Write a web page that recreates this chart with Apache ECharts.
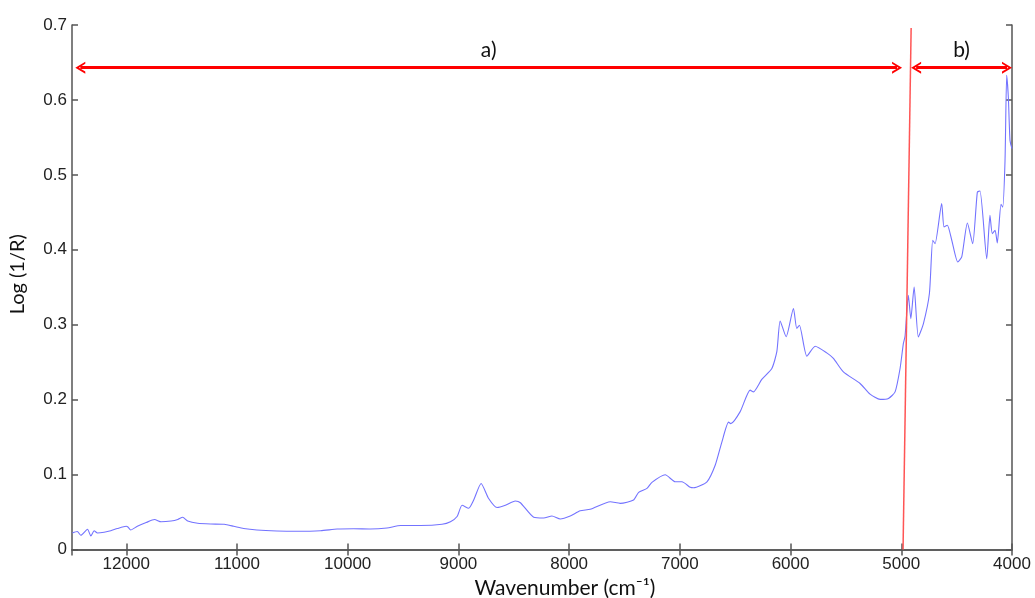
<!DOCTYPE html>
<html>
<head>
<meta charset="utf-8">
<script src="https://cdn.jsdelivr.net/npm/echarts@6/dist/echarts.min.js"></script>
<style>
  html, body { margin: 0; padding: 0; background: #fff; }
  #chart { width: 1035px; height: 598px; }
</style>
</head>
<body>
<div id="chart"></div>
<script>
// spectrum
const wavenumbers = [12487, 12442, 12410, 12350, 12320, 12290, 12260, 12200, 12140, 12080, 12000, 11985, 11960, 11900, 11820, 11745, 11685, 11595, 11535, 11490, 11445, 11355, 11235, 11115, 11030, 10940, 10820, 10640, 10460, 10245, 10095, 9945, 9795, 9645, 9520, 9343, 9148, 9072, 9012, 8967, 8907, 8862, 8795, 8727, 8651, 8576, 8486, 8440, 8320, 8230, 8155, 8080, 7990, 7900, 7810, 7628, 7538, 7418, 7372, 7297, 7252, 7132, 7041, 6981, 6906, 6876, 6755, 6680, 6620, 6560, 6540, 6455, 6365, 6335, 6260, 6169, 6124, 6094, 6040, 5974, 5944, 5920, 5853, 5778, 5673, 5613, 5523, 5372, 5282, 5191, 5116, 5056, 5011, 4981, 4966, 4936, 4914, 4884, 4846, 4800, 4746, 4716, 4695, 4635, 4614, 4584, 4544, 4490, 4454, 4403, 4355, 4313, 4289, 4228, 4199, 4178, 4153, 4133, 4099, 4084, 4063, 4048, 4033, 4018, 4000];
const logR = [0.022, 0.024, 0.019, 0.027, 0.018, 0.025, 0.022, 0.023, 0.025, 0.028, 0.031, 0.030, 0.026, 0.031, 0.036, 0.040, 0.037, 0.038, 0.040, 0.043, 0.038, 0.035, 0.034, 0.0336, 0.031, 0.028, 0.026, 0.0247, 0.0243, 0.025, 0.0273, 0.0277, 0.0273, 0.0287, 0.032, 0.032, 0.0336, 0.037, 0.044, 0.059, 0.055, 0.066, 0.088, 0.068, 0.056, 0.059, 0.0647, 0.0624, 0.043, 0.042, 0.0447, 0.0407, 0.0447, 0.0517, 0.0536, 0.0637, 0.0616, 0.066, 0.0763, 0.0816, 0.0896, 0.0997, 0.0904, 0.0904, 0.083, 0.0824, 0.0904, 0.1127, 0.1437, 0.170, 0.168, 0.184, 0.2127, 0.2104, 0.227, 0.2416, 0.264, 0.305, 0.284, 0.3216, 0.295, 0.2993, 0.258, 0.2713, 0.2624, 0.255, 0.237, 0.2216, 0.2073, 0.2003, 0.2016, 0.2104, 0.2416, 0.275, 0.2847, 0.3393, 0.308, 0.3504, 0.2837, 0.3016, 0.3416, 0.4127, 0.408, 0.4616, 0.4304, 0.4327, 0.4127, 0.3837, 0.3904, 0.4357, 0.408, 0.477, 0.4784, 0.388, 0.446, 0.4216, 0.426, 0.409, 0.4607, 0.457, 0.5193, 0.633, 0.6037, 0.546, 0.535];

// region markers: [start wn, end wn, y]
const regionA = [12415, 5038, 0.643];
const regionB = [4866, 4045, 0.643];
const regionLabels = ["a)", "b)"];
const splitLine = [[4911, 0.696], [4984, 0]];

const xTicks = ["4000", "5000", "6000", "7000", "8000", "9000", "10000", "11000", "12000"];

const chevron = "path://M0,10 L5,0 L10,10 L8.2,10 L5,3.6 L1.8,10 Z";

var chartDom = document.getElementById("chart");
var myChart = echarts.init(chartDom);

const axisLineStyle = { color: "#555", width: 1.5 };
const tickFont = { fontFamily: "Liberation Sans", fontSize: 17, color: "#222" };

function arrowLine(r, label) {
  return [
    { coord: [r[0], r[2]], symbol: chevron, symbolSize: [12, 10] },
    { coord: [r[1], r[2]], symbol: chevron, symbolSize: [12, 10], name: label },
  ];
}

var option = {
  animation: false,
  grid: { left: 72, right: 23, top: 25, bottom: 48.5, containLabel: false, outerBoundsMode: "none" },
  xAxis: [
    {
      type: "value",
      min: 4000,
      max: 12490,
      interval: 1000,
      inverse: true,
      axisLine: { lineStyle: axisLineStyle },
      axisTick: { inside: true, length: 6, lineStyle: axisLineStyle },
      splitLine: { show: false },
      axisLabel: Object.assign({
        margin: 6,
        showMaxLabel: false,
        formatter: function (v) {
          return xTicks.indexOf(String(v)) >= 0 ? String(v) : "";
        },
      }, tickFont),
      name: "Wavenumber (cm\u207B\u00B9)",
      nameLocation: "middle",
      nameGap: 27,
      nameTextStyle: { fontFamily: "Lato", fontSize: 21, color: "#111", padding: [0, 0, 0, 46] },
    },
    {
      type: "value",
      position: "top",
      min: 4000,
      max: 12490,
      interval: 1000,
      inverse: true,
      axisLine: { lineStyle: axisLineStyle },
      axisTick: { inside: true, length: 6, lineStyle: axisLineStyle },
      axisLabel: { show: false },
      splitLine: { show: false },
    },
  ],
  yAxis: [
    {
      type: "value",
      min: 0,
      max: 0.7,
      interval: 0.1,
      axisLine: { show: true, lineStyle: axisLineStyle },
      axisTick: { show: true, inside: true, length: 6, lineStyle: axisLineStyle },
      splitLine: { show: false },
      axisLabel: Object.assign({ margin: 5 }, tickFont),
      name: "Log (1/R)",
      nameLocation: "middle",
      nameGap: 44,
      nameTextStyle: { fontFamily: "Lato", fontSize: 20, color: "#111", padding: [0, 0, 0, 26] },
    },
    {
      type: "value",
      position: "right",
      min: 0,
      max: 0.7,
      interval: 0.1,
      axisLine: { show: true, lineStyle: axisLineStyle },
      axisTick: { show: true, inside: true, length: 6, lineStyle: axisLineStyle },
      axisLabel: { show: false },
      splitLine: { show: false },
    },
  ],
  series: [
    {
      type: "line",
      data: wavenumbers.map((w, i) => [w, logR[i]]),
      showSymbol: false,
      smooth: 0.2,
      lineStyle: { color: "#7373ff", width: 1.1 },
      z: 2,
      markLine: {
        silent: true,
        animation: false,
        data: [
          [
            { coord: splitLine[0], symbol: "none" },
            { coord: splitLine[1], symbol: "none" },
          ],
        ],
        lineStyle: { color: "#ff5555", width: 1.5, type: "solid" },
        label: { show: false },
      },
    },
    {
      type: "line",
      data: [],
      markLine: {
        silent: true,
        animation: false,
        data: [arrowLine(regionA, regionLabels[0]), arrowLine(regionB, regionLabels[1])],
        lineStyle: { color: "#ff0000", width: 3, type: "solid" },
        label: {
          show: true,
          position: "insideMiddleTop",
          distance: 7,
          formatter: "{b}",
          fontFamily: "Lato",
          fontSize: 21,
          color: "#111",
        },
      },
    },
  ],
};

option && myChart.setOption(option, true);
</script>
</body>
</html>
